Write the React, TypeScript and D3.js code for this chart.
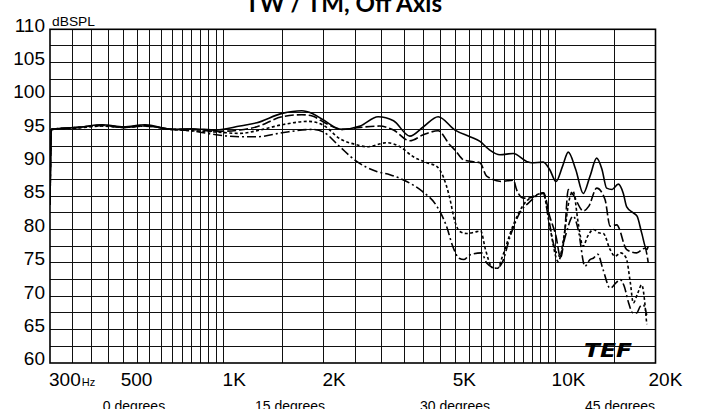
import React from 'react';
import * as d3 from 'd3';

// ---------- data ----------
const yTicks = [60, 65, 70, 75, 80, 85, 90, 95, 100, 105, 110];
const xTickFreqs = [300, 500, 1000, 2000, 5000, 10000, 20000];
const xTickLabels = ['300', '500', '1K', '2K', '5K', '10K', '20K'];
const legendLabels = ['0 degrees', '15 degrees', '30 degrees', '45 degrees'];
const title = 'TW / TM, Off Axis';

const deg0: [number, number][] = [
  [300, 83.7], [303, 95.0], [365, 95.3], [430, 95.7], [500, 95.4], [580, 95.7], [700, 95.0], [800, 95.1],
  [950, 94.9], [1120, 95.5], [1260, 96.0], [1500, 97.4], [1720, 97.8], [1850, 97.4], [2000, 96.4], [2270, 95.0],
  [2580, 95.5], [2920, 96.9], [3250, 96.3], [3640, 94.0], [4000, 95.4], [4430, 96.9], [4980, 94.9], [5520, 93.9],
  [5920, 93.2], [6300, 92.0], [6800, 91.2], [7460, 91.4], [8185, 90.2], [8470, 90.0], [9180, 90.1], [9600, 89.0],
  [10030, 87.2], [10500, 89.5], [10920, 91.6], [11500, 89.0], [12120, 85.4], [12700, 88.0], [13300, 90.7],
  [13800, 89.0], [14250, 86.2], [14800, 86.0], [15450, 86.8], [16000, 85.4], [16380, 83.4], [17140, 82.5],
  [17600, 82.0], [18170, 79.5], [18820, 77.0], [19020, 77.5],
];

const deg15: [number, number][] = [
  [300, 83.7], [303, 95.0], [365, 95.3], [430, 95.6], [500, 95.3], [580, 95.6], [700, 95.0], [800, 95.0],
  [950, 94.7], [1120, 94.9], [1260, 95.4], [1500, 96.9], [1720, 97.2], [1850, 97.0], [2000, 96.1], [2270, 95.0],
  [2580, 95.3], [2950, 95.5], [3250, 94.9], [3640, 93.3], [4000, 94.2], [4430, 94.8], [4800, 92.7], [4980, 91.9],
  [5300, 90.4], [5920, 90.0], [6200, 88.0], [6900, 87.2], [7460, 87.4], [7640, 85.9], [8000, 84.7], [8500, 84.8],
  [8900, 85.3], [9200, 85.5], [9600, 82.0], [10030, 79.0], [10350, 75.8], [10650, 79.5], [10920, 86.0],
  [11300, 85.2], [12120, 82.8], [12600, 83.5], [13300, 86.2], [14090, 84.5], [14600, 80.5], [15280, 80.7],
  [16380, 77.0], [17550, 76.5], [18590, 77.2], [19020, 75.0],
];

const deg30: [number, number][] = [
  [300, 83.7], [303, 95.0], [365, 95.2], [430, 95.5], [500, 95.3], [580, 95.5], [700, 95.0], [800, 94.8],
  [950, 94.6], [1120, 94.4], [1260, 94.8], [1500, 95.7], [1800, 96.2], [2000, 95.6], [2242, 93.6], [2517, 92.7],
  [2700, 92.4], [3100, 93.0], [3400, 92.4], [3728, 90.9], [4100, 90.0], [4400, 89.4], [4590, 87.9], [4790, 84.9],
  [4970, 81.3], [5150, 79.7], [5400, 79.4], [5700, 79.6], [5950, 79.8], [6150, 77.0], [6450, 74.3], [6700, 74.2],
  [6900, 75.8], [7460, 80.7], [8000, 83.7], [8770, 85.2], [9180, 85.5], [9600, 80.5], [10190, 75.2], [10600, 79.0],
  [11000, 84.5], [11300, 85.7], [11700, 81.0], [12100, 77.5], [12500, 79.0], [13000, 80.0], [13500, 79.5],
  [13930, 79.4], [14600, 77.0], [15100, 76.0], [15700, 76.5], [16300, 75.8], [16800, 72.0], [17140, 69.0],
  [17700, 70.5], [18170, 71.7], [18820, 65.8],
];

const deg45: [number, number][] = [
  [300, 83.7], [303, 95.0], [365, 95.3], [430, 95.6], [500, 95.3], [580, 95.5], [700, 95.0], [800, 94.8],
  [870, 94.5], [950, 94.2], [1120, 93.9], [1260, 93.9], [1500, 94.5], [1850, 95.0], [2000, 94.6], [2240, 92.4],
  [2517, 90.2], [2892, 88.7], [3170, 88.2], [3560, 87.2], [3970, 85.7], [4400, 83.4], [4700, 80.4], [4900, 77.5],
  [5120, 75.7], [5300, 75.5], [5520, 76.2], [5980, 76.5], [6200, 75.0], [6630, 74.2], [6900, 75.0], [7300, 79.0],
  [7800, 82.5], [8300, 84.0], [8900, 85.2], [9180, 85.4], [9500, 82.0], [9900, 77.5], [10300, 76.0],
  [10700, 79.0], [11300, 82.0], [11700, 80.0], [12260, 74.5], [12700, 75.5], [12990, 75.7], [13400, 76.3],
  [13900, 74.0], [14600, 71.2], [15200, 72.0], [15640, 72.5], [16100, 71.5], [16600, 69.0], [17100, 67.5],
  [17550, 67.5], [18000, 68.5], [18370, 68.7], [18820, 67.2],
];

const series = [deg0, deg15, deg30, deg45];
const dashes = ['none', '9,3', '3,2.4', '9,3,2,3'];

// ---------- layout ----------
const W = 703, H = 409;
const L = 50, R = 655.5, T = 29.3, B = 363;
const FONT = '"Liberation Sans", Arial, sans-serif';
const legendCenters = [134, 290, 455, 620];
const xLabelDx = [-1, -3, -1, -1, -3, -4, -7];

export default function App() {
  const x = d3.scaleLog().domain([300, 20000]).range([L, R]);
  const y = d3.scaleLinear().domain([60, 110]).range([B, T]);

  const gridF = [
    ...d3.range(350, 1001, 50),
    1500, 2000,
    ...d3.range(2500, 10001, 500),
    15000,
  ];
  const gridDb = d3.range(62.5, 110, 2.5);

  const line = d3
    .line<[number, number]>()
    .x((d) => x(d[0]))
    .y((d) => y(d[1]))
    .curve(d3.curveMonotoneX);

  return (
    <svg width={W} height={H} style={{ position: 'absolute', left: 0, top: 0, background: '#fff' }}>
      <rect x={0} y={0} width={W} height={H} fill="#fff" />
      <defs>
        <clipPath id="plot">
          <rect x={L} y={T} width={R - L} height={B - T} />
        </clipPath>
      </defs>
      {/* title */}
      <text x={343.5} y={12} textAnchor="middle" fontFamily="Lato, sans-serif" fontWeight={700} fontSize={24} textLength={197} lengthAdjust="spacingAndGlyphs">
        {title}
      </text>
      {/* grid */}
      <g shapeRendering="crispEdges">
        {gridF.map((f) => (
          <line key={'v' + f} x1={x(f)} x2={x(f)} y1={T} y2={B} stroke="#111" strokeWidth={1} />
        ))}
        {gridDb.map((d) => (
          <line key={'h' + d} x1={L} x2={R} y1={y(d)} y2={y(d)} stroke="#111" strokeWidth={1} />
        ))}
      </g>
      <rect x={L} y={T} width={R - L} height={B - T} fill="none" stroke="#000" strokeWidth={1.6} />
      {/* curves */}
      <g clipPath="url(#plot)">
        {series.map((s, i) => (
          <path key={i} d={line(s) || ''} fill="none" stroke="#000" strokeWidth={1.6} strokeDasharray={dashes[i]} />
        ))}
      </g>
      {/* y labels */}
      {yTicks.map((t) => (
        <text key={'y' + t} x={45} y={y(t) + 2.3} textAnchor="end" fontFamily={FONT} fontSize={19}>
          {t}
        </text>
      ))}
      <text x={52} y={26} fontFamily={FONT} fontSize={12.5} textLength={43} lengthAdjust="spacingAndGlyphs">dBSPL</text>
      {/* x labels */}
      {xTickFreqs.map((f, i) => (
        <text key={'x' + f} x={x(f) + xLabelDx[i]} y={386} fontFamily={FONT} fontSize={19}>
          {xTickLabels[i]}
          {i === 0 ? <tspan fontSize={11} dx={1}>Hz</tspan> : null}
        </text>
      ))}
      {/* legend labels */}
      {legendLabels.map((l, i) => (
        <text key={l} x={legendCenters[i]} y={410.5} textAnchor="middle" fontFamily={FONT} fontSize={14}>
          {l}
        </text>
      ))}
      {/* TEF logo */}
      <g>
        <text x={584} y={357} fontFamily='"DejaVu Sans", sans-serif' fontWeight={900} fontStyle="italic" fontSize={20} textLength={48} lengthAdjust="spacingAndGlyphs">
          TEF
        </text>
      </g>
    </svg>
  );
}
